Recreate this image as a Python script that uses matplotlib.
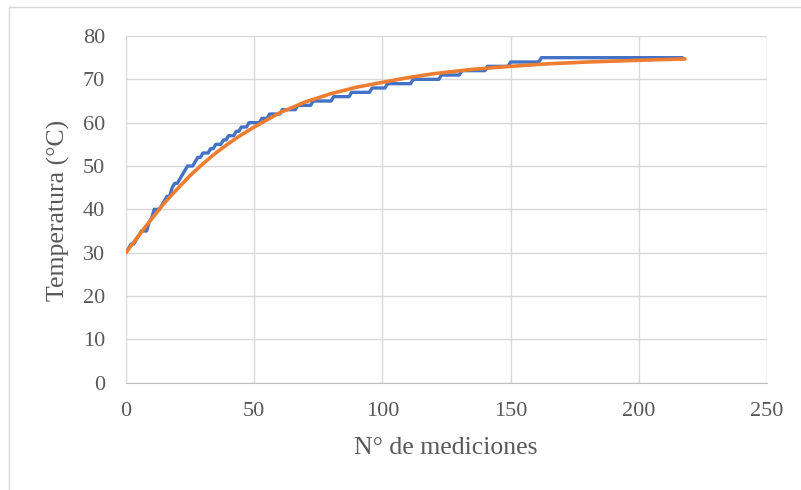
import numpy as np
import matplotlib.pyplot as plt
from matplotlib.lines import Line2D

plt.rcParams['font.family'] = ['Liberation Serif', 'DejaVu Serif']

# measured temperature: each integer level with first and last measurement index
level_T = [30, 31, 32, 33, 34, 35, 37, 38, 40, 41, 42, 43, 45, 46, 47, 48, 49, 50,
           51, 52, 53, 54, 55, 56, 57, 58, 59, 60, 61, 62, 63, 64, 65, 66, 67, 68,
           69, 70, 71, 72, 73, 74, 75]
level_start = [0, 1, 2, 4, 5, 6, 9, 10, 11, 14, 15, 16, 18, 19, 21, 22, 23, 24,
               27, 28, 30, 33, 35, 38, 40, 43, 45, 48, 53, 56, 61, 67, 73, 81, 88, 96,
               102, 112, 123, 131, 141, 150, 162]
level_end = [0, 1, 3, 4, 5, 8, 9, 10, 13, 14, 15, 17, 18, 20, 21, 22, 23, 26,
             27, 29, 32, 34, 37, 39, 42, 44, 47, 52, 55, 60, 66, 72, 80, 87, 95, 101,
             111, 122, 130, 140, 149, 161, 217]

# fitted curve, values
fit_n = [0, 5, 10, 15, 20, 25, 30, 35, 40, 45, 50, 60, 70, 80, 90, 100, 110,
         120, 135, 150, 165, 180, 200, 218]
fit_T = [30.0, 34.0, 37.8, 41.5, 44.7, 47.8, 50.5, 53.0, 55.2, 57.2, 59.0, 62.3,
         64.8, 66.7, 68.2, 69.3, 70.4, 71.3, 72.3, 73.0, 73.6, 74.0, 74.4, 74.7]

meas_n, meas_T = [], []
for T, a, b in zip(level_T, level_start, level_end):
    meas_n += [a, b]
    meas_T += [T, T]

W, H = 801, 490
fig = plt.figure(figsize=(W / 100, H / 100), dpi=100)
# chart frame (left and top edges visible)
fig.add_artist(Line2D([9 / W, 9 / W], [0, 1 - 7 / H], color='#d9d9d9', lw=1))
fig.add_artist(Line2D([9 / W, 1], [1 - 7 / H, 1 - 7 / H], color='#d9d9d9', lw=1))

ax = fig.add_axes([126 / W, 1 - 382.7 / H, (767 - 126) / W, (382.7 - 36) / H])

ax.plot(meas_n, meas_T, color='#4472C4', linewidth=2.4,
        solid_capstyle='round', solid_joinstyle='round')
ax.plot(fit_n, fit_T, color='#ED7D31', linewidth=2.6, solid_capstyle='round')

ax.set_xlim(0, 250)
ax.set_ylim(0, 80)
ax.set_xticks(np.arange(0, 251, 50))
ax.set_yticks(np.arange(0, 81, 10))
ax.grid(True, color='#d9d9d9', linewidth=1)
ax.set_axisbelow(True)
for s in ['top', 'right', 'left']:
    ax.spines[s].set_visible(False)
ax.spines['bottom'].set_color('#bfbfbf')
ax.tick_params(length=0, labelsize=16, labelcolor='#595959')
ax.tick_params(axis='x', pad=14)
ax.tick_params(axis='y', pad=15)

fig.text(446 / W, 1 - 448 / H, 'N° de mediciones', fontsize=18.5, color='#595959',
         ha='center', va='center')
fig.text(58 / W, 1 - 210 / H, 'Temperatura (°C)', fontsize=18.5, color='#595959',
         ha='center', va='center', rotation=90)

plt.savefig('out.png', dpi=100)
